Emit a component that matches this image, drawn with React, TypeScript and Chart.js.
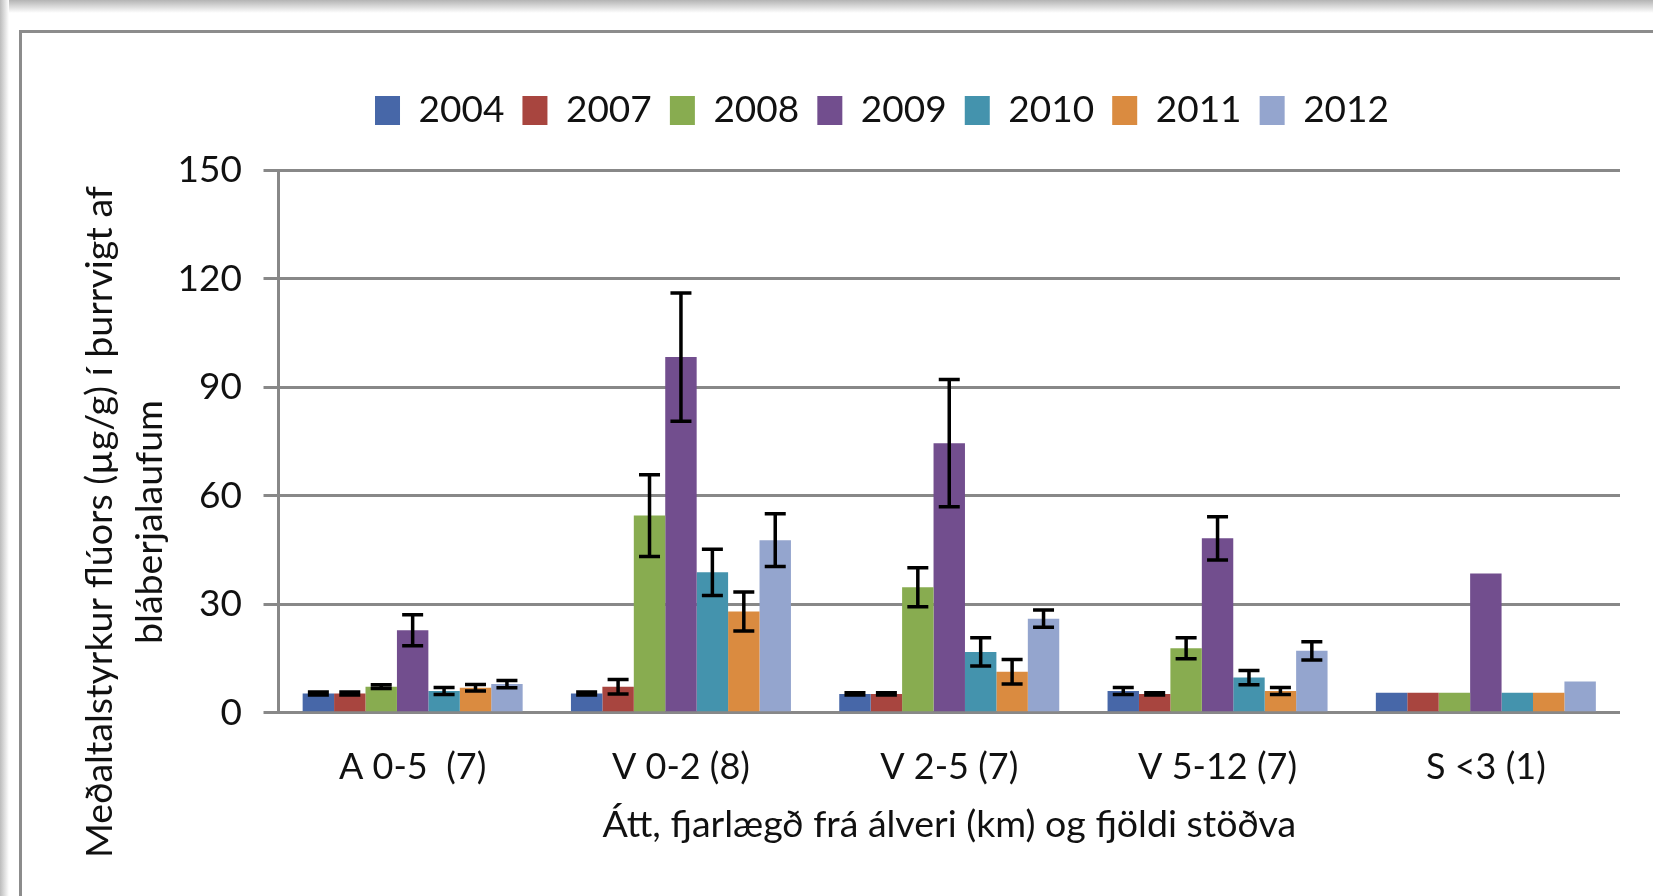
import React, { useEffect, useRef } from "react";
import { Chart, registerables } from "chart.js";

Chart.register(...registerables);

const categories = ["A 0-5  (7)", "V 0-2 (8)", "V 2-5 (7)", "V 5-12 (7)", "S <3 (1)"];
const years = ["2004", "2007", "2008", "2009", "2010", "2011", "2012"];
const colors = ["#4767A8", "#A8453F", "#88AC50", "#724E8E", "#4493AD", "#DA8B40", "#94A5CE"];

const v2004 = [5.3, 5.3, 5.2, 6.0, 5.5];
const v2007 = [5.3, 7.2, 5.2, 5.2, 5.5];
const v2008 = [7.2, 54.5, 34.7, 17.8, 5.5];
const v2009 = [22.8, 98.3, 74.5, 48.2, 38.5];
const v2010 = [6.0, 38.8, 16.8, 9.7, 5.5];
const v2011 = [6.9, 28.0, 11.3, 6.0, 5.5];
const v2012 = [7.9, 47.7, 26.0, 17.1, 8.6];

const e2004 = [0.4, 0.4, 0.3, 1.0, 0];
const e2007 = [0.4, 2.0, 0.3, 0.3, 0];
const e2008 = [0.5, 11.3, 5.4, 2.9, 0];
const e2009 = [4.3, 17.7, 17.6, 6.0, 0];
const e2010 = [1.0, 6.4, 3.9, 2.0, 0];
const e2011 = [0.9, 5.4, 3.4, 1.0, 0];
const e2012 = [1.0, 7.3, 2.4, 2.5, 0];

const yTicks = [0, 30, 60, 90, 120, 150];
const yTitleLines = ["Meðaltalstyrkur flúors (µg/g) í þurrvigt af", "bláberjalaufum"];
const xTitle = "Átt, fjarlægð frá álveri (km) og fjöldi stöðva";

const seriesValues = [v2004, v2007, v2008, v2009, v2010, v2011, v2012];
const seriesErrors = [e2004, e2007, e2008, e2009, e2010, e2011, e2012];

const FONT = "Lato";
const TEXT = "#111111";

const errorBarPlugin = {
  id: "errorBars",
  afterDatasetsDraw(chart: any) {
    const ctx = chart.ctx;
    const yScale = chart.scales.y;
    ctx.save();
    ctx.strokeStyle = "#000";
    ctx.lineWidth = 3.5;
    chart.data.datasets.forEach((ds: any, di: number) => {
      const meta = chart.getDatasetMeta(di);
      if (meta.hidden) return;
      meta.data.forEach((el: any, i: number) => {
        const err = ds.errors ? ds.errors[i] : 0;
        if (!err) return;
        const v = ds.data[i];
        const yt = yScale.getPixelForValue(v + err);
        const yb = yScale.getPixelForValue(v - err);
        const half = 10.5;
        ctx.beginPath();
        ctx.moveTo(el.x, yt);
        ctx.lineTo(el.x, yb);
        ctx.moveTo(el.x - half, yt);
        ctx.lineTo(el.x + half, yt);
        ctx.moveTo(el.x - half, yb);
        ctx.lineTo(el.x + half, yb);
        ctx.stroke();
      });
    });
    ctx.restore();
  },
};

const yTitlePlugin = {
  id: "yTitle",
  afterDraw(chart: any) {
    const ctx = chart.ctx;
    ctx.save();
    ctx.translate(100, 522);
    ctx.rotate(-Math.PI / 2);
    ctx.fillStyle = TEXT;
    ctx.font = `37.5px ${FONT}`;
    ctx.textAlign = "center";
    ctx.textBaseline = "middle";
    ctx.fillText(yTitleLines[0], 0, 0);
    ctx.fillText(yTitleLines[1], 0, 50);
    ctx.restore();
  },
};

export default function App() {
  const ref = useRef<HTMLCanvasElement | null>(null);

  useEffect(() => {
    if (!ref.current) return;
    const chart = new Chart(ref.current, {
      type: "bar",
      data: {
        labels: categories,
        datasets: years.map((y, i) => ({
          label: y,
          data: seriesValues[i],
          errors: seriesErrors[i],
          backgroundColor: colors[i],
          borderWidth: 0,
          categoryPercentage: 0.82,
          barPercentage: 1.0,
        })) as any,
      },
      options: {
        animation: false,
        responsive: false,
        layout: { padding: { left: 144, right: 33, top: 73.8, bottom: 0 } },
        plugins: {
          legend: {
            position: "top",
            labels: {
              boxWidth: 25,
              boxHeight: 29,
              padding: 18.1,
              color: TEXT,
              font: { family: FONT, size: 37 },
            },
          },
          subtitle: {
            display: true,
            text: "",
            weight: 500,
            font: { size: 10 },
            padding: { top: 0, bottom: 19.2 },
          } as any,
          tooltip: { enabled: false },
        },
        scales: {
          x: {
            grid: { display: false, drawTicks: false },
            border: { display: false },
            ticks: { color: TEXT, font: { family: FONT, size: 36 }, padding: 32.7, maxRotation: 0 },
            title: {
              display: true,
              text: xTitle,
              color: TEXT,
              font: { family: FONT, size: 37.5 },
              padding: { top: 0, bottom: 48.5 },
            },
            afterFit: (s: any) => {
              s.height = 183.3;
            },
          },
          y: {
            min: 0,
            max: 150,
            afterBuildTicks: (s: any) => {
              s.ticks = yTicks.map((v) => ({ value: v }));
            },
            grid: { color: "#888888", lineWidth: 3, tickLength: 15, tickColor: "#888888" },
            border: { display: true, color: "#888888", width: 3 },
            ticks: { color: TEXT, font: { family: FONT, size: 37 }, padding: 21.5 },
            afterFit: (s: any) => {
              s.width = 134.5;
            },
          },
        },
      },
      plugins: [errorBarPlugin, yTitlePlugin],
    });
    return () => chart.destroy();
  }, []);

  return (
    <div style={{ position: "absolute", left: 0, top: 0, width: 1653, height: 896, background: "#fff", overflow: "hidden" }}>
      <div style={{ position: "absolute", left: 0, top: 0, width: 1653, height: 13, background: "linear-gradient(to bottom, #b4b4b4, #ffffff)" }} />
      <div style={{ position: "absolute", left: 0, top: 0, width: 9, height: 896, background: "linear-gradient(to right, #bcbcbc, #ffffff)" }} />
      <div style={{ position: "absolute", left: 19, top: 30, width: 1634, height: 3, background: "#8c8c8c" }} />
      <div style={{ position: "absolute", left: 19, top: 30, width: 3, height: 866, background: "#8c8c8c" }} />
      <canvas ref={ref} width={1653} height={896} style={{ position: "absolute", left: 0, top: 0, width: 1653, height: 896 }} />
    </div>
  );
}
